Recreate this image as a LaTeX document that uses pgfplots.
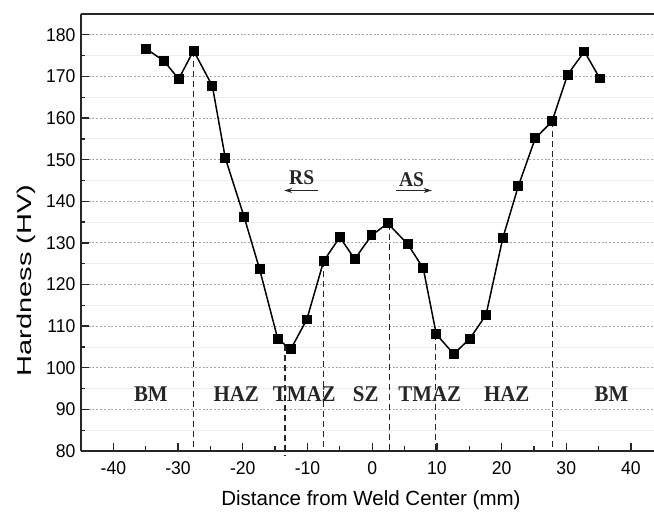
\documentclass[border=0pt]{standalone}
\usepackage{pgfplots}
\pgfplotsset{compat=1.18}
\usetikzlibrary{arrows.meta}
\usepackage{fontspec}
\usepackage{graphicx}
\setmainfont{Liberation Sans}
\newfontfamily\tickfont[FakeStretch=0.95]{Liberation Sans}
\newfontfamily\zonefont[FakeStretch=0.93]{Liberation Serif}
\begin{document}
\begin{tikzpicture}
\begin{axis}[
  at={(0,0)}, anchor=south west,
  scale only axis, width=573pt, height=437pt,
  xmin=-45, xmax=43.56, ymin=80, ymax=185,
  axis x line*=box, axis y line*=left,
  xtick pos=bottom,
  axis line style={line width=1.8pt, color=black!85},
  xtick={-40,-30,...,40}, ytick={80,90,...,180},
  minor x tick num=1, minor y tick num=1,
  tick align=inside,
  major tick length=8pt, minor tick length=4.5pt,
  every tick/.style={line width=1.3pt, black!85},
  ymajorgrids, yminorgrids,
  major grid style={gray!70, line width=1pt, dash pattern=on 2pt off 1.8pt},
  minor grid style={gray!15, line width=0.9pt},
  /pgf/number format/assume math mode=true,
  ticklabel style={font=\fontsize{18.5}{21}\tickfont},
  xticklabel style={anchor=base, yshift=-23.5pt},
  yticklabel style={xshift=-2pt},
  xlabel={Distance from Weld Center (mm)},
  xlabel style={at={(rel axis cs:0.506,0)}, anchor=base, yshift=-55pt, font=\fontsize{20.5}{24}\selectfont},
  ylabel={\scalebox{1.45}[1]{Hardness (HV)}},
  ylabel style={at={(rel axis cs:-0.096,0.39)}, anchor=center, font=\fontsize{20}{24}\selectfont},
  clip=false,
]
\addplot[black!85, line width=1.5pt, dash pattern=on 6pt off 4pt] coordinates {(-27.6,176.2) (-27.6,80)};
\addplot[black!85, line width=1.5pt, dash pattern=on 6pt off 4pt] coordinates {(-13.5,105.5) (-13.5,79)};
\addplot[black!85, line width=1.5pt, dash pattern=on 6pt off 4pt] coordinates {(-7.5,125.6) (-7.5,80)};
\addplot[black!85, line width=1.5pt, dash pattern=on 6pt off 4pt] coordinates {(2.7,134.5) (2.7,80)};
\addplot[black!85, line width=1.5pt, dash pattern=on 6pt off 4pt] coordinates {(9.8,108.1) (9.8,80)};
\addplot[black!85, line width=1.5pt, dash pattern=on 6pt off 4pt] coordinates {(27.9,159.2) (27.9,80)};
\addplot[black, line width=1.5pt, mark=square*, mark size=4.2pt, mark options={solid, fill=black}] coordinates {
(-34.9,176.6) (-32.2,173.75) (-29.9,169.4) (-27.6,176.2) (-24.7,167.7) (-22.7,150.4) (-19.8,136.3) (-17.4,123.7) (-14.6,107.0) (-12.6,104.4) (-10.1,111.6) (-7.5,125.6) (-5.0,131.4) (-2.7,126.1) (-0.1,131.8) (2.4,134.7) (5.5,129.7) (7.9,123.9) (9.9,108.1) (12.6,103.3) (15.1,107.0) (17.6,112.7) (20.2,131.2) (22.6,143.7) (25.2,155.1) (27.8,159.2) (30.2,170.4) (32.8,176.0) (35.2,169.5)
};
\draw[-{Stealth[length=8pt,width=5pt]}, line width=1pt, black!85] (axis cs:-8.3,142.6) -- (axis cs:-13.6,142.6);
\draw[-{Stealth[length=8pt,width=5pt]}, line width=1pt, black!85] (axis cs:3.7,142.6) -- (axis cs:9.2,142.6);
\node[font=\fontsize{21}{24}\zonefont\bfseries, text=black!85] at (axis cs:-10.9,145.6) {RS};
\node[font=\fontsize{21}{24}\zonefont\bfseries, text=black!85] at (axis cs:6.1,145.3) {AS};
\begin{scope}[every node/.style={anchor=base, font=\fontsize{22.5}{26}\zonefont\bfseries, text=black!85}]
\node at (axis cs:-34.2,91.8) {BM};
\node at (axis cs:-21.0,91.8) {HAZ};
\node at (axis cs:-10.5,91.8) {TMAZ};
\node at (axis cs:-1.0,91.8) {SZ};
\node at (axis cs:8.9,91.8) {TMAZ};
\node at (axis cs:20.8,91.8) {HAZ};
\node at (axis cs:37.0,91.8) {BM};
\end{scope}
\end{axis}
\pgfresetboundingbox
\path[use as bounding box] (-81pt,-63pt) rectangle (573pt,451pt);
\end{tikzpicture}
\end{document}
